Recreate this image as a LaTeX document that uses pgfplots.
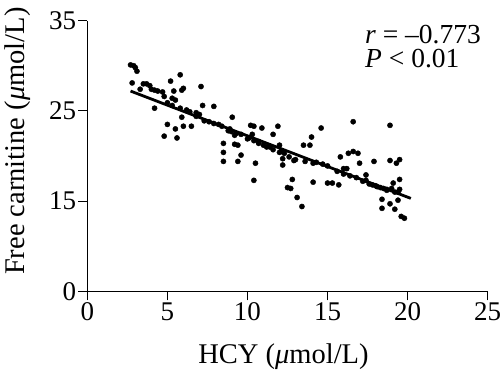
\documentclass[border=0pt]{standalone}
\usepackage{fontspec}
\setmainfont{Liberation Serif}
\usepackage{pgfplots}
\pgfplotsset{compat=1.18}
\begin{document}
\begin{tikzpicture}[font=\fontsize{28.5}{32}\selectfont]
\useasboundingbox (0,0) rectangle (500pt,379pt);
\begin{axis}[
  at={(87.3pt,87.7pt)}, anchor=south west,
  scale only axis, width=400.4pt, height=270.6pt,
  xmin=0, xmax=25, ymin=0, ymax=35,
  y coord trafo/.code={\pgfmathparse{#1>=10 ? #1/10-0.5 : #1/20}},
  axis x line=bottom, axis y line=left,
  axis line style={-, line width=1pt},
  tick style={line width=1pt, black},
  major tick length=9pt, tick align=outside,
  xtick={0,5,10,15,20,25}, xticklabels={0,5,10,15,20,25},
  ytick={0,15,25,35}, yticklabels={0,15,25,35},
  every tick label/.append style={font=\fontsize{27}{30}\selectfont, inner sep=2pt},
  xlabel={HCY (\textit{μ}mol/L)},
  ylabel={Free carnitine (\textit{μ}mol/L)},
  x label style={at={(axis description cs:0.49,-0.266)}, anchor=base},
  y label style={at={(axis description cs:-0.156,0.555)}, anchor=base},
  clip=false,
]
\addplot[only marks, mark=*, mark size=2.6pt, black] coordinates {
(2.7,30.1) (2.9,30.0) (3.0,29.8) (3.1,29.4) (2.8,28.1) (3.3,27.4)
(3.5,28.0) (3.7,28.0) (3.9,27.8) (4.0,27.4) (4.2,27.3) (4.4,27.2)
(4.2,25.3) (4.7,27.1) (4.8,26.6) (4.8,22.2) (5.0,23.5) (5.2,28.3)
(5.4,27.2) (5.5,26.2) (5.3,26.4) (5.5,23.0) (5.6,22.0) (5.8,29.0)
(5.9,27.3) (6.0,27.5) (5.8,25.3) (5.9,24.3) (6.0,23.3) (6.2,25.1)
(6.5,23.3) (6.8,24.8) (7.1,27.7) (7.2,25.6) (7.9,25.5)
(8.5,21.4) (8.5,20.4) (8.5,19.4) (8.9,23.0) (8.8,22.8) (9.05,24.3)
(9.2,22.3) (9.4,21.2) (9.2,21.3) (9.4,19.4) (9.6,20.1)
(10.2,23.4) (10.4,23.3) (10.3,22.4) (10.1,22.0) (10.4,17.3) (10.5,19.2)
(10.9,23.1) (10.7,21.6) (11.0,21.2) (11.4,21.0) (11.6,22.4) (11.9,23.3)
(12.0,21.2) (12.1,20.5) (12.2,19.7) (12.2,19.0) (12.5,16.5) (12.7,16.4)
(12.8,17.4) (12.9,19.5) (13.1,15.4) (13.4,14.4) (13.5,21.2) (13.9,21.2)
(13.6,19.4) (14.0,22.1) (14.1,17.1) (14.1,19.2) (14.6,23.1)
(15.0,17.0) (15.3,17.0) (15.7,16.8) (15.8,19.9) (16.0,18.6) (16.2,18.6)
(16.3,20.3) (16.6,20.5) (16.9,20.3) (16.6,23.8) (17.0,19.2)
(17.4,17.9) (17.4,17.3) (17.9,19.4) (17.8,16.8) (18.1,16.6) (18.5,16.4)
(18.7,16.2) (18.4,15.2) (18.4,14.2) (18.9,14.7) (18.9,23.4) (18.9,19.5)
(19.1,17.0) (19.2,16.0) (19.3,19.2) (19.5,19.6) (19.5,17.4)
(19.2,14.1) (19.6,13.3) (19.8,13.1) (19.4,15.1) (19.5,16.3)
(5.0,25.9) (5.3,25.6) (6.4,24.9) (6.8,24.4) (7.0,24.6) (7.3,23.9)
(7.6,23.8) (7.9,23.6) (8.2,23.5) (8.4,23.3) (9.0,22.7) (9.3,22.5)
(9.6,22.4) (10.0,21.9) (10.4,21.7) (10.7,21.4) (11.2,21.0) (11.6,20.7)
(12.0,20.4) (12.3,20.3) (12.6,19.9) (13.0,19.6) (14.3,19.3) (14.7,19.1)
(15.0,18.9) (15.6,18.3) (16.0,18.0) (16.4,17.8) (16.8,17.6) (17.2,17.2)
(17.6,16.9) (18.0,16.7) (18.3,16.5) (18.7,16.3) (19.0,16.4) (19.4,16.0)
};
\addplot[black, line width=2.8pt] coordinates {(2.7,27.2) (20.2,15.3)};
\node[anchor=north west, inner sep=0pt, align=left, font=\fontsize{27.5}{24}\selectfont] at (rel axis cs:0.6936,0.984) {\textit{r} = –0.773\\\textit{P} < 0.01};
\end{axis}
\end{tikzpicture}
\end{document}
